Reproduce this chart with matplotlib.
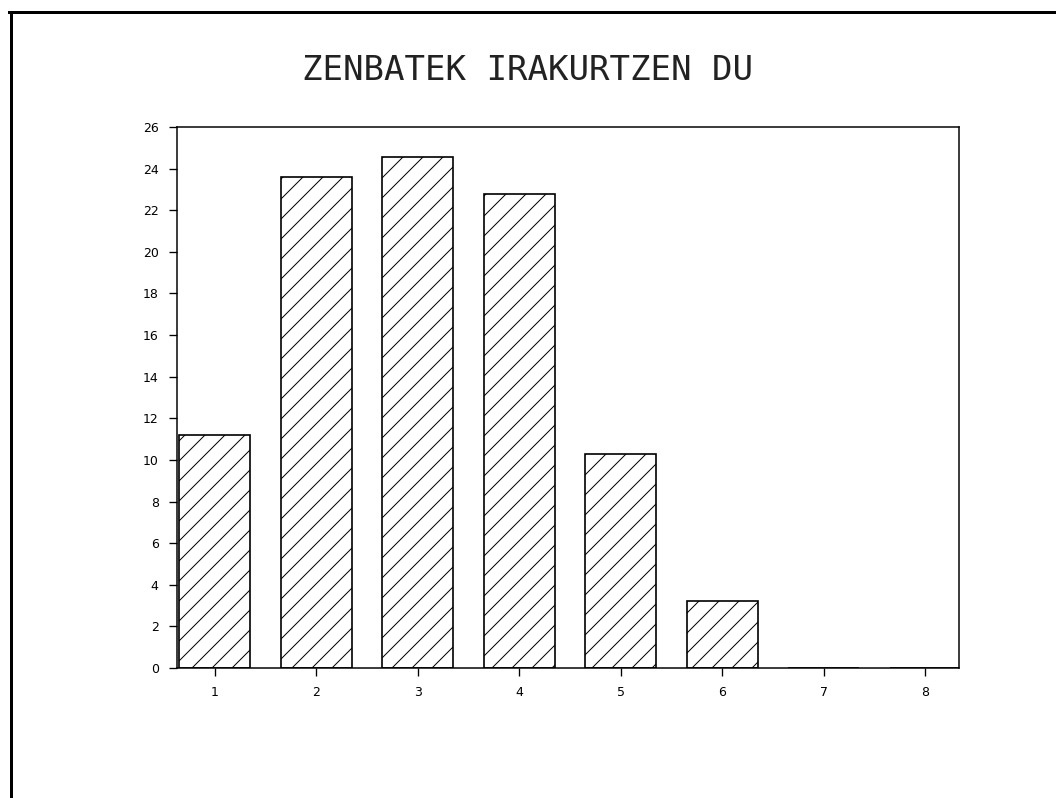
import numpy as np
import matplotlib.pyplot as plt
from matplotlib.lines import Line2D

categories = [1, 2, 3, 4, 5, 6, 7, 8]
values = [11.2, 23.6, 24.55, 22.8, 10.3, 3.2, 0, 0]
yticks = list(range(0, 27, 2))
title = "ZENBATEK IRAKURTZEN DU"

plt.rcParams['hatch.linewidth'] = 0.6
plt.rcParams['font.family'] = ['DejaVu Sans']

dpi = 120
fig = plt.figure(figsize=(1056 / dpi, 798 / dpi), dpi=dpi)
ax = fig.add_axes([0.1676, 0.1629, 0.7405, 0.678])

ax.bar(categories, values, width=0.7, color='white', edgecolor='black',
       linewidth=1.0, hatch='//')

ax.set_xlim(0.626, 8.33)
ax.set_ylim(0, 26)
ax.set_xticks(categories)
ax.set_yticks(yticks)
ax.tick_params(direction='out', length=5, width=0.8, labelsize=7.5, pad=6, colors='black')
for s in ax.spines.values():
    s.set_linewidth(0.9)

fig.text(0.5, 0.912, title, ha='center', va='center', fontsize=20.5,
         family='DejaVu Sans Mono', fontweight='light', color='#222222')

# outer frame of the scanned page
fig.add_artist(Line2D([11 / 1056, 11 / 1056], [0, 1 - 12 / 798],
                      transform=fig.transFigure, color='black', linewidth=1.8))
fig.add_artist(Line2D([9 / 1056, 1], [1 - 12 / 798, 1 - 12 / 798],
                      transform=fig.transFigure, color='black', linewidth=1.8))

fig.savefig('out.png', dpi=dpi)
